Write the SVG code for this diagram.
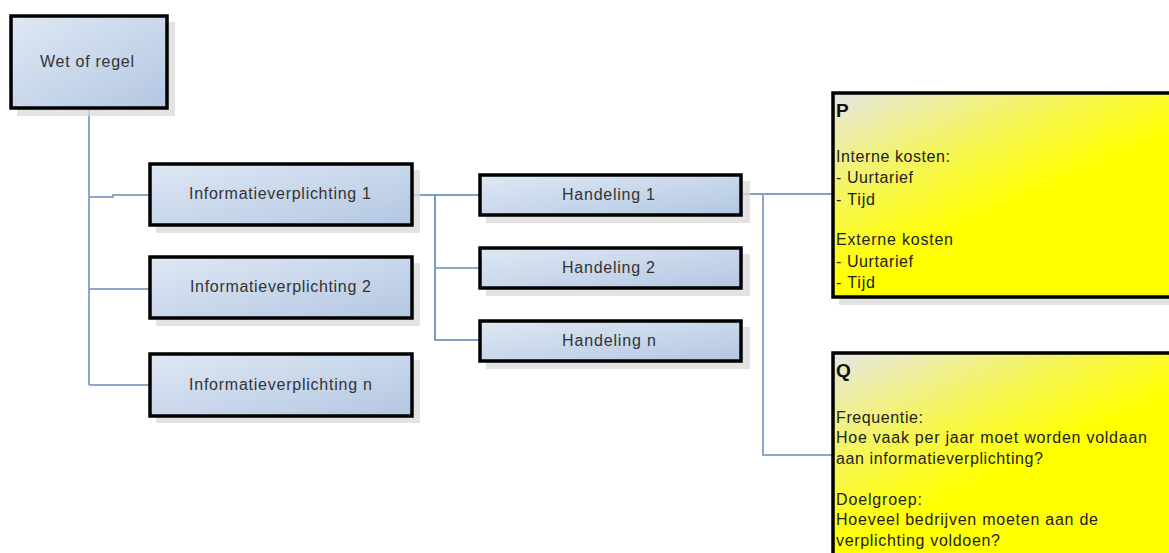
<svg xmlns="http://www.w3.org/2000/svg" width="1169" height="553" viewBox="0 0 1169 553">
<defs>
<linearGradient id="blue" x1="0" y1="0" x2="1" y2="1">
<stop offset="0" stop-color="#dfe8f4"/>
<stop offset="1" stop-color="#b3c7e2"/>
</linearGradient>
<linearGradient id="yellow" x1="0" y1="0" x2="0.6" y2="0.8">
<stop offset="0" stop-color="#e6e6e6"/>
<stop offset="0.45" stop-color="#f6f650"/>
<stop offset="0.75" stop-color="#ffff00"/>
<stop offset="1" stop-color="#ffff00"/>
</linearGradient>
</defs>
<style>
.shadow{fill:#d9d9d9;opacity:0.75}
.box{fill:url(#blue);stroke:#000;stroke-width:3.5}
.note{fill:url(#yellow);stroke:#000;stroke-width:3.5}
.lbl{font-family:"Liberation Sans",Arial,sans-serif;font-size:16px;fill:#333}
.ntxt{font-family:"Liberation Sans",Arial,sans-serif;font-size:16px;fill:#222}
.big{font-family:"Liberation Sans",Arial,sans-serif;font-size:19px;font-weight:bold;fill:#111}
.con{fill:none;stroke:#5a7fb5;stroke-width:1.6}
.con2{fill:none;stroke:#8ea6c9;stroke-width:2}
</style>
<rect width="1169" height="553" fill="#fff"/>
<g id="connectors">
<path class="con2" d="M89 109 V385"/>
<path class="con2" d="M89 197 H113 V195 H149"/>
<path class="con2" d="M89 289 H149"/>
<path class="con2" d="M89 385 H149"/>
<path class="con" d="M413 195 H479"/>
<path class="con" d="M435 195 V340 H479"/>
<path class="con2" d="M435 268 H479"/>
<path class="con" d="M742 194 H833"/>
<path class="con2" d="M763 194 V455 H833"/>
</g>
<g id="wet">
<rect class="shadow" x="17" y="22" width="158" height="94"/>
<rect class="box" x="11" y="16" width="156" height="92"/>
<text class="lbl" x="40" y="67" textLength="94" lengthAdjust="spacing">Wet of regel</text>
</g>
<g id="info1">
<rect class="shadow" x="156" y="170" width="264" height="63"/>
<rect class="box" x="150" y="164" width="262" height="61"/>
<text class="lbl" x="189" y="199" textLength="182" lengthAdjust="spacing">Informatieverplichting 1</text>
</g>
<g id="info2">
<rect class="shadow" x="156" y="263" width="264" height="63"/>
<rect class="box" x="150" y="257" width="262" height="61"/>
<text class="lbl" x="190" y="292" textLength="181" lengthAdjust="spacing">Informatieverplichting 2</text>
</g>
<g id="infon">
<rect class="shadow" x="156" y="360" width="264" height="63"/>
<rect class="box" x="150" y="354" width="262" height="62"/>
<text class="lbl" x="189" y="390" textLength="183" lengthAdjust="spacing">Informatieverplichting n</text>
</g>
<g id="hand1">
<rect class="shadow" x="486" y="181" width="264" height="42"/>
<rect class="box" x="480" y="175" width="261" height="40"/>
<text class="lbl" x="562" y="200" textLength="93" lengthAdjust="spacing">Handeling 1</text>
</g>
<g id="hand2">
<rect class="shadow" x="486" y="254" width="264" height="42"/>
<rect class="box" x="480" y="248" width="261" height="40"/>
<text class="lbl" x="562" y="273" textLength="93" lengthAdjust="spacing">Handeling 2</text>
</g>
<g id="handn">
<rect class="shadow" x="486" y="327" width="264" height="42"/>
<rect class="box" x="480" y="321" width="261" height="40"/>
<text class="lbl" x="562" y="346" textLength="94" lengthAdjust="spacing">Handeling n</text>
</g>
<g id="p">
<rect class="shadow" x="839" y="99" width="340" height="206"/>
<rect class="note" x="833" y="93" width="345" height="204"/>
<text class="big" x="836" y="117">P</text>
<text class="ntxt" x="836" y="162" textLength="114" lengthAdjust="spacing">Interne kosten:</text>
<text class="ntxt" x="836" y="183" textLength="77" lengthAdjust="spacing">- Uurtarief</text>
<text class="ntxt" x="836" y="205" textLength="39" lengthAdjust="spacing">- Tijd</text>
<text class="ntxt" x="836" y="245" textLength="117" lengthAdjust="spacing">Externe kosten</text>
<text class="ntxt" x="836" y="267" textLength="77" lengthAdjust="spacing">- Uurtarief</text>
<text class="ntxt" x="836" y="288" textLength="39" lengthAdjust="spacing">- Tijd</text>
</g>
<g id="q">
<rect class="note" x="833" y="353" width="345" height="210"/>
<text class="big" x="836" y="377">Q</text>
<text class="ntxt" x="836" y="423" textLength="87" lengthAdjust="spacing">Frequentie:</text>
<text class="ntxt" x="836" y="443" textLength="311" lengthAdjust="spacing">Hoe vaak per jaar moet worden voldaan</text>
<text class="ntxt" x="836" y="464" textLength="207" lengthAdjust="spacing">aan informatieverplichting?</text>
<text class="ntxt" x="836" y="505" textLength="86" lengthAdjust="spacing">Doelgroep:</text>
<text class="ntxt" x="836" y="525" textLength="262" lengthAdjust="spacing">Hoeveel bedrijven moeten aan de</text>
<text class="ntxt" x="836" y="546" textLength="164" lengthAdjust="spacing">verplichting voldoen?</text>
</g>
</svg>
